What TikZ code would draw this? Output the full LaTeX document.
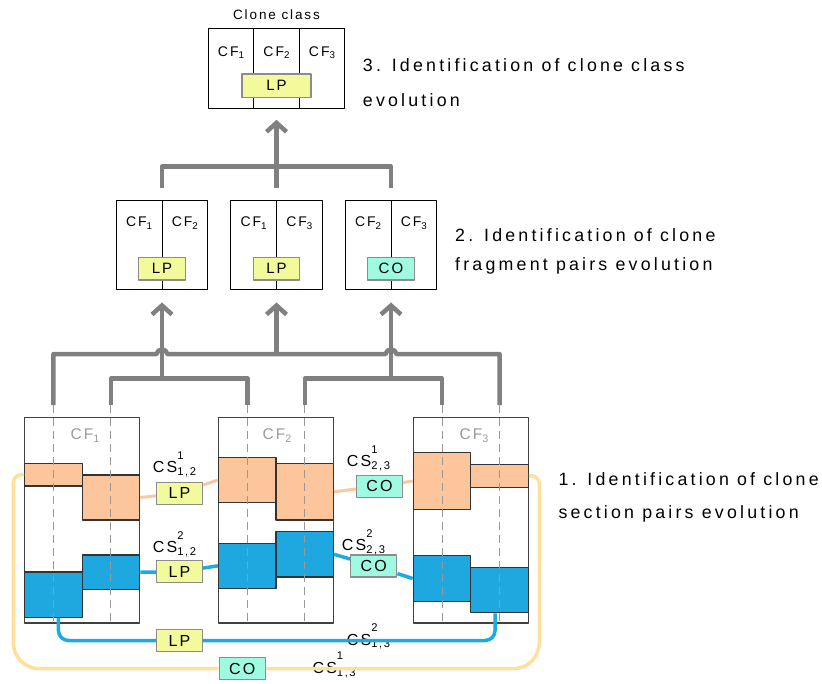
\documentclass[tikz,border=0pt]{standalone}
\usepackage{fontspec}
\usepackage{graphicx}
\newfontfamily\stepfont[LetterSpace=18]{Liberation Sans}
\newfontfamily\labfont[LetterSpace=14]{Liberation Sans}
\usetikzlibrary{arrows.meta,calc}
\definecolor{secorange}{HTML}{FCC59B}
\definecolor{secblue}{HTML}{1FA7DF}
\definecolor{linkorange}{HTML}{FBC7A1}
\definecolor{linkblue}{HTML}{1FA9E1}
\definecolor{linkgold}{HTML}{FFDF9C}
\definecolor{lpfill}{HTML}{F2FA9C}
\definecolor{cofill}{HTML}{9EFBE2}
\definecolor{treegray}{HTML}{808080}
\newcommand\cfsub[1]{CF\raisebox{-0.18em}{\scalebox{0.7}{#1}}}
\newcommand\cslab[2]{CS\rlap{\raisebox{0.85em}{\scalebox{0.7}{#1}}}\raisebox{-0.17em}{\scalebox{0.7}{#2}}}
\tikzset{
  fragbox/.style={draw=black!75, line width=1.2pt, minimum width=115pt, minimum height=205.7pt, inner sep=0pt},
  pairbox/.style={draw=black, line width=1pt, fill=white, minimum width=91.5pt, minimum height=89.3pt, inner sep=0pt},
  classbox/.style={draw=black, line width=1pt, fill=white, minimum width=136pt, minimum height=80pt, inner sep=0pt},
  secO/.style={draw=black!80, line width=1.2pt, fill=secorange, minimum width=57.5pt, minimum height=#1, inner sep=0pt},
  secB/.style={draw=black!80, line width=1.2pt, fill=secblue, minimum width=57.5pt, minimum height=#1, inner sep=0pt},
  lpbox/.style={draw=black!45, line width=1.2pt, fill=lpfill, minimum width=46pt, minimum height=22pt, inner sep=0pt,
    font=\labfont\fontsize{16}{16}\selectfont},
  cobox/.style={lpbox, fill=cofill},
  smlab/.style={inner sep=0pt, anchor=base, font=\labfont\fontsize{14}{14}\selectfont},
  fraglab/.style={inner sep=0pt, anchor=base, text=black!40, font=\labfont\fontsize{15.5}{15.5}\selectfont},
  cstext/.style={inner sep=0pt, anchor=base west, font=\labfont\fontsize{16}{16}\selectfont},
  steptext/.style={inner sep=0pt, anchor=north west, align=left},
  coldash/.style={draw=black!40, line width=1pt, dash pattern=on 8pt off 5pt},
  tree/.style={draw=treegray, line width=4.5pt},
  arr/.style={-{Straight Barb[length=9pt,width=20pt]}},
  oline/.style={draw=linkorange, line width=3pt},
  bline/.style={draw=linkblue, line width=3.5pt},
  gline/.style={draw=linkgold, line width=3.5pt}
}
\begin{document}
\begin{tikzpicture}[x=1pt, y=-1pt, line join=round]
\useasboundingbox (0,0) rectangle (822,683);

% clone class
\node[classbox] (cls) at (276.5,68.3) {};
\draw[line width=1pt] ($(cls.north west)!1/3!(cls.north east)$) -- ($(cls.south west)!1/3!(cls.south east)$);
\draw[line width=1pt] ($(cls.north west)!2/3!(cls.north east)$) -- ($(cls.south west)!2/3!(cls.south east)$);
\node[smlab, font=\labfont\fontsize{13.5}{13.5}\selectfont] (clsname) at (276.5,19.3) {Clone class};
\node[smlab] (clsf1) at (231,56) {\cfsub1};
\node[smlab] (clsf2) at (276.5,56) {\cfsub2};
\node[smlab] (clsf3) at (322,56) {\cfsub3};
\node[lpbox, minimum width=69pt, minimum height=23.3pt, font=\labfont\fontsize{15}{15}\selectfont] (clslp) at (276.5,85.7) {LP};
\node[steptext, font=\stepfont\fontsize{17.8}{35}\selectfont] (step3) at (362.7,58.8) {3. Identification of clone class\\evolution};

% fragment pairs
\node[pairbox] (p12) at (162,245.3) {};
\node[pairbox] (p13) at (276.5,245.3) {};
\node[pairbox] (p23) at (391,245.3) {};
\foreach \p in {p12,p13,p23}
  \draw[line width=1pt] (\p.north) -- (\p.south);
\node[smlab] (p12a) at (139.1,226.7) {\cfsub1};
\node[smlab] (p12b) at (184.9,226.7) {\cfsub2};
\node[smlab] (p13a) at (253.6,226.7) {\cfsub1};
\node[smlab] (p13b) at (299.4,226.7) {\cfsub3};
\node[smlab] (p23a) at (368.1,226.7) {\cfsub2};
\node[smlab] (p23b) at (413.9,226.7) {\cfsub3};
\node[lpbox, minimum width=46.5pt, minimum height=22.7pt, font=\labfont\fontsize{15}{15}\selectfont] (p12lp) at (162,268.7) {LP};
\node[lpbox, minimum width=46.5pt, minimum height=22.7pt, font=\labfont\fontsize{15}{15}\selectfont] (p13lp) at (276.5,268.7) {LP};
\node[cobox, minimum width=46.5pt, minimum height=22.7pt, font=\labfont\fontsize{15}{15}\selectfont] (p23co) at (391,268.7) {CO};
\node[steptext, font=\stepfont\fontsize{17.8}{28.3}\selectfont] (step2) at (455,228.8) {2. Identification of clone\\fragment pairs evolution};

\coordinate (jtop) at (276.5,166.7);
\draw[tree, shorten <=12pt] (p12.north) |- (jtop);
\draw[tree, shorten <=12pt] (p23.north) |- (jtop);
\draw[tree, shorten <=12pt] (p13.north) -- (jtop);
\draw[tree, arr, shorten >=11pt] (jtop) -- (cls);

% clone fragments
\node[fragbox] (cf1) at (82.2,520.2) {};
\node[fragbox] (cf2) at (276,520.2) {};
\node[fragbox] (cf3) at (470.8,520.2) {};
\node[fraglab] (cf1lab) at (85,439.3) {\cfsub1};
\node[fraglab] (cf2lab) at (277,439.3) {\cfsub2};
\node[fraglab] (cf3lab) at (474,439.3) {\cfsub3};

\node[secO=22.7pt] (o11) at (53.45,474.7) {};
\node[secO=45pt] (o12) at (110.95,497.5) {};
\node[secB=45.3pt] (b11) at (53.45,594.7) {};
\node[secB=34.3pt] (b12) at (110.95,572.2) {};
\node[secO=45.4pt] (o21) at (247.25,480) {};
\node[secO=56.7pt] (o22) at (304.75,491.7) {};
\node[secB=45pt] (b21) at (247.25,565.8) {};
\node[secB=45.3pt] (b22) at (304.75,554.3) {};
\node[secO=56.6pt] (o31) at (442.05,481) {};
\node[secO=23pt] (o32) at (499.55,475.8) {};
\node[secB=45.6pt] (b31) at (442.05,578.5) {};
\node[secB=45.4pt] (b32) at (499.55,590) {};

\coordinate (t1a) at (53.45,405);
\coordinate (t1b) at (110.95,405);
\coordinate (t2a) at (247.25,405);
\coordinate (t2b) at (304.75,405);
\coordinate (t3a) at (442.05,405);
\coordinate (t3b) at (499.55,405);
\draw[coldash] (t1a) -- (t1a |- cf1.south);
\draw[coldash] (t1b) -- (t1b |- cf1.south);
\draw[coldash] (t2a) -- (t2a |- cf2.south);
\draw[coldash] (t2b) -- (t2b |- cf2.south);
\draw[coldash] (t3a) -- (t3a |- cf3.south);
\draw[coldash] (t3b) -- (t3b |- cf3.south);

% tree to pairs
\coordinate (j12) at (162,378.3);
\coordinate (j23) at (391,378.3);
\coordinate (j13) at (276.5,354);
\draw[tree] (t1b) |- (j12) -| (t2a);
\draw[tree] (t2b) |- (j23) -| (t3a);
\draw[tree] (t1a) |- (156.5,354) .. controls (157.5,348) and (166.5,348) .. (167.5,354) -- (385.5,354)
  .. controls (386.5,348) and (395.5,348) .. (396.5,354) -| (t3b);
\draw[tree, arr, shorten >=12pt] (j12) -- (p12);
\draw[tree, arr, shorten >=12pt] (j13) -- (p13);
\draw[tree, arr, shorten >=12pt] (j23) -- (p23);

% clone section pairs
\node[lpbox] (lp12o) at (179.5,493.3) {LP};
\node[cobox] (co23o) at (379.5,486.2) {CO};
\node[lpbox] (lp12b) at (179.5,571.7) {LP};
\node[cobox] (co23b) at (373.8,566) {CO};
\node[lpbox] (lp13) at (179.5,640.5) {LP};
\node[cobox] (co13) at (242.2,668.7) {CO};
\node[cstext] (cs12o) at (152.7,472.7) {\cslab{1}{1,2}};
\node[cstext] (cs23o) at (346.7,466.7) {\cslab{1}{2,3}};
\node[cstext] (cs12b) at (152.7,552.7) {\cslab{2}{1,2}};
\node[cstext] (cs23b) at (341.7,550.7) {\cslab{2}{2,3}};
\node[cstext] (cs13b) at (346.7,645) {\cslab{2}{1,3}};
\node[cstext] (cs13o) at (312.3,673.3) {\cslab{1}{1,3}};

\draw[oline] (o12.east) -- (lp12o) -- (o21.west);
\draw[oline] (o22.east) -- (co23o) -- (o31.west);
\draw[bline] (b12.east) -- (lp12b) -- (b21.west);
\draw[bline] (b22.east) -- (co23b) -- (b31.west);
\draw[bline, rounded corners=10pt] ([xshift=5pt]b11.south) |- (lp13.west);
\draw[bline, rounded corners=10pt] (lp13.east) -| ([xshift=-4.5pt]b32.south);
\coordinate (gl) at (13.3,560);
\coordinate (gr) at (539.3,560);
\draw[gline] (o11.west) [rounded corners=8pt] -| (gl) [rounded corners=26pt] |- (co13.west);
\draw[gline] (co13.east) [rounded corners=26pt] -| (gr) [rounded corners=8pt] |- (o32.east);
\node[steptext, font=\stepfont\fontsize{17.8}{33.3}\selectfont] (step1) at (558.3,472) {1. Identification of clone\\section pairs evolution};
\end{tikzpicture}
\end{document}
